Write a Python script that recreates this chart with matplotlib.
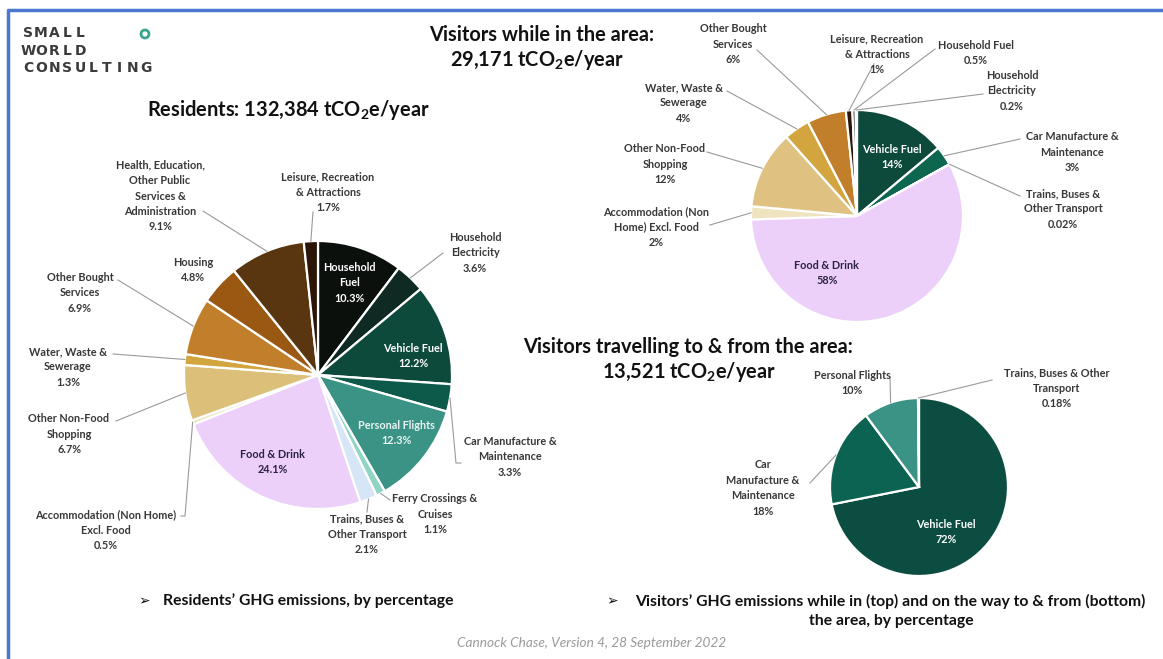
import numpy as np
import matplotlib.pyplot as plt
from matplotlib.patches import Circle

W, H = 1163, 659

# ---- data ----
res_total = 132384
res_names = ["Household\nFuel", "Household\nElectricity", "Vehicle Fuel",
             "Car Manufacture &\nMaintenance", "Personal Flights",
             "Ferry Crossings &\nCruises", "Trains, Buses &\nOther Transport",
             "Food & Drink", "Accommodation (Non Home)\nExcl. Food",
             "Other Non-Food\nShopping", "Water, Waste &\nSewerage",
             "Other Bought\nServices", "Housing",
             "Health, Education,\nOther Public\nServices &\nAdministration",
             "Leisure, Recreation\n& Attractions"]
res_values = [10.3, 3.6, 12.2, 3.3, 12.3, 1.1, 2.1, 24.1, 0.5, 6.7, 1.3, 6.9, 4.8, 9.1, 1.7]

vis_total = 29171
vis_names = ["Vehicle Fuel", "Car Manufacture &\nMaintenance",
             "Trains, Buses &\nOther Transport", "Food & Drink",
             "Accommodation (Non\nHome) Excl. Food", "Other Non-Food\nShopping",
             "Water, Waste &\nSewerage", "Other Bought\nServices",
             "Leisure, Recreation\n& Attractions", "Household Fuel",
             "Household\nElectricity"]
vis_values = [14, 3, 0.02, 58, 2, 12, 4, 6, 1, 0.5, 0.2]

trav_total = 13521
trav_names = ["Vehicle Fuel", "Car\nManufacture &\nMaintenance",
              "Personal Flights", "Trains, Buses & Other\nTransport"]
trav_values = [72, 18, 10, 0.18]

# ---- colours ----
res_colors = ["#0b100d", "#0e2a22", "#0d4a3c", "#0e5a4a", "#3b9385", "#8fd4c5",
              "#d6e6f7", "#ecd0fa", "#efe3c0", "#dcc079", "#d2a53f", "#c27f2b",
              "#9a5813", "#59360f", "#2a1506"]
vis_colors = ["#0d4a3c", "#0d6650", "#d6e6f7", "#ecd0fa", "#efe3c0", "#dfc282",
              "#d2a53f", "#c27f2b", "#2a1506", "#0b100d", "#0e2a22"]
trav_colors = ["#0b4d40", "#0d6352", "#3b9385", "#d6e6f7"]

dark = "#383838"
food = "#2b2340"

# label layout: (text x, text y, colour, leader points from text side) in image px
res_layout = [
    (349, 283, "white", None),
    (475, 253, dark, [(443, 253)]),
    (413, 356, "white", None),
    (510, 457, dark, [(456, 463), (461, 463)]),
    (396, 433, "#e8f4f2", None),
    (435, 514, dark, [(390, 500)]),
    (367, 534, dark, [(367, 512)]),
    (273, 462, food, None),
    (106, 530, dark, [(185, 516), (181, 516)]),
    (69, 434, dark, [(116, 421)]),
    (68, 367, dark, [(113, 354)]),
    (80, 293, dark, [(118, 280)]),
    (193, 270, dark, None),
    (160, 196, dark, [(203, 211)]),
    (328, 192, dark, [(313, 212)]),
]
vis_layout = [
    (892, 157, "white", None),
    (1072, 152, dark, [(1020, 139)]),
    (1063, 209, dark, [(1020, 196)]),
    (827, 273, food, None),
    (656, 227, dark, [(710, 225)]),
    (665, 164, dark, [(707, 152)]),
    (684, 103, dark, [(727, 91)]),
    (733, 44, dark, [(757, 50)]),
    (877, 54, dark, [(874, 64)]),
    (976, 53, dark, [(935, 49)]),
    (1012, 91, dark, [(983, 94)]),
]
trav_layout = [
    (946, 532, "white", None),
    (763, 488, dark, [(810, 483)]),
    (852, 383, dark, [(890, 377)]),
    (1057, 388, dark, [(992, 380)]),
]

plt.rcParams['font.family'] = ['Lato', 'DejaVu Sans']
plt.rcParams['mathtext.fontset'] = 'custom'
plt.rcParams['mathtext.rm'] = 'Lato:bold'
plt.rcParams['mathtext.bf'] = 'Lato:bold'

fig = plt.figure(figsize=(W / 100, H / 100), dpi=100)
ax = fig.add_axes([0, 0, 1, 1])


def draw_pie(values, names, colors, centre, radius, layout):
    cx, cy = centre
    wedges, _ = ax.pie(values, colors=colors, startangle=90, counterclock=False,
                       center=(cx, H - cy), radius=radius,
                       wedgeprops=dict(edgecolor="white", linewidth=1.6))
    for w, name, v, lay in zip(wedges, names, values, layout):
        tx, ty, tcol, lead = lay
        ax.text(tx, H - ty, name + "\n" + f"{v:g}%", color=tcol, fontsize=7.8,
                fontweight="bold", ha="center", va="center", linespacing=1.5)
        if lead is not None:
            ang = np.deg2rad((w.theta1 + w.theta2) / 2)
            pts = [(cx + radius * np.cos(ang), H - cy + radius * np.sin(ang))]
            pts += [(px, H - py) for px, py in lead]
            xs, ys = zip(*pts)
            ax.plot(xs, ys, color="#9a9a9a", lw=0.8)


draw_pie(res_values, res_names, res_colors, (318, 375), 134, res_layout)
draw_pie(vis_values, vis_names, vis_colors, (857, 216), 106, vis_layout)
draw_pie(trav_values, trav_names, trav_colors, (919, 487), 89, trav_layout)

ax.set_xlim(0, W)
ax.set_ylim(0, H)
ax.set_aspect("equal")
ax.axis("off")

# titles
tkw = dict(fontsize=14.4, fontweight="bold", color="#111111", ha="center", va="center")
ax.text(288, H - 110, "Residents: %s tCO$_2$e/year" % f"{res_total:,}", **tkw)
ax.text(542, H - 35, "Visitors while in the area:", **tkw)
ax.text(537, H - 60, "%s tCO$_2$e/year" % f"{vis_total:,}", **tkw)
ax.text(688, H - 347, "Visitors travelling to & from the area:", **tkw)
ax.text(689, H - 372, "%s tCO$_2$e/year" % f"{trav_total:,}", **tkw)

# bullet notes
bkw = dict(fontsize=11.3, fontweight="bold", color="#111111", va="center")
ax.text(138, H - 601, "\u27a2", family="DejaVu Sans", fontsize=10, color="#111111", va="center")
ax.text(163, H - 601, "Residents\u2019 GHG emissions, by percentage", **bkw)
ax.text(606, H - 601, "\u27a2", family="DejaVu Sans", fontsize=10, color="#111111", va="center")
ax.text(635, H - 601, "Visitors\u2019 GHG emissions while in (top) and on the way to & from (bottom)", **bkw)
ax.text(891, H - 621, "the area, by percentage", ha="center", **bkw)

# footer
ax.text(592, H - 643, "Cannock Chase, Version 4, 28 September 2022", fontsize=9.8,
        style="italic", color="#9a9a9a", ha="center", va="center")

# logo
for word, y in [("SMALL", 33), ("WORLD", 51), ("CONSULTING", 68)]:
    for i, ch in enumerate(word):
        ax.text(28 + i * 13.1, H - y, ch, family="DejaVu Sans", fontsize=10,
                fontweight="bold", color="#3b3b3b", ha="center", va="center")
ax.add_patch(Circle((145, H - 34), 4, facecolor="none", edgecolor="#3aa58f", lw=2))

# blue frame
ax.plot([8, 8, W], [0, H - 10, H - 10], color="#4a78cf", lw=2.5, solid_capstyle="butt")

fig.savefig("out.png", dpi=100)
